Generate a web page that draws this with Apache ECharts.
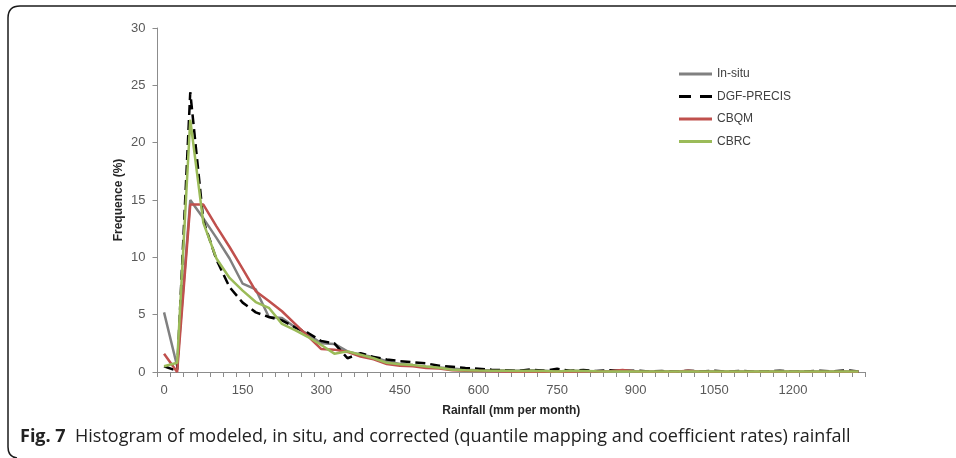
<!DOCTYPE html>
<html><head><meta charset="utf-8">
<script src="https://cdn.jsdelivr.net/npm/echarts@6/dist/echarts.min.js"></script>
<style>html,body{margin:0;padding:0;background:#fff}#c{width:956px;height:458px}</style>
</head><body><div id="c"></div>
<script>
var categories = [];
for (var i = 0; i < 54; i++) categories.push(String(i * 25));

var inSitu = [5.2,0.5,15.0,13.4,11.7,9.9,7.7,7.2,4.8,4.7,3.9,3.3,2.5,2.45,1.8,1.5,1.3,0.95,0.7,0.6,0.45,0.4,0.3,0.2,0.15,0.15,0.12,0.1,0.15,0.12,0.05,0.1,0.08,0.05,0.05,0.1,0.05,0.04,0.05,0.03,0.06,0.04,0.05,0.03,0.04,0.03,0.05,0.03,0.04,0.03,0.05,0.03,0.04,0.03];
var dgfPrecis = [0.5,0.1,24.4,13.2,9.8,7.4,6.05,5.2,4.8,4.5,3.9,3.4,2.7,2.5,1.2,1.65,1.3,1.1,0.95,0.85,0.75,0.55,0.45,0.35,0.28,0.2,0.15,0.1,0.22,0.1,0.28,0.1,0.17,0.08,0.15,0.1,0.12,0.05,0.08,0.05,0.1,0.05,0.1,0.03,0.1,0.03,0.05,0.1,0.03,0.05,0.1,0.05,0.15,0.05];
var cbqm = [1.6,0.0,14.6,14.6,12.7,10.9,9.0,7.05,6.2,5.3,4.2,3.1,2.0,1.95,1.75,1.35,1.1,0.7,0.55,0.5,0.35,0.3,0.15,0.1,0.08,0.06,0.05,0.03,0.04,0.03,0.05,0.03,0.04,0.05,0.06,0.17,0.05,0.03,0.03,0.03,0.1,0.03,0.03,0.03,0.03,0.03,0.03,0.03,0.03,0.03,0.03,0.03,0.03,0.03];
var cbrc = [0.5,0.8,22.0,13.0,9.9,8.2,7.1,6.1,5.6,4.2,3.65,3.05,2.35,1.6,1.8,1.5,1.2,0.8,0.68,0.6,0.47,0.38,0.2,0.15,0.12,0.1,0.1,0.08,0.1,0.08,0.05,0.1,0.08,0.06,0.05,0.05,0.05,0.05,0.05,0.05,0.05,0.05,0.05,0.05,0.05,0.05,0.05,0.05,0.05,0.05,0.05,0.05,0.05,0.05];
var seriesNames = ['In-situ','DGF-PRECIS','CBQM','CBRC'];
var yTicks = {min:0, max:30, interval:5};

var FONT = 'Liberation Sans';
var solidIcon = 'path://M0,0 L33,0 L33,3 L0,3 Z';
var dashIcon = 'path://M0,0 L12,0 L12,3 L0,3 Z M21,0 L33,0 L33,3 L21,3 Z';
var frameStyle = {stroke:'#1a1a1a', lineWidth:1.5, fill:null};
var chart = echarts.init(document.getElementById('c'));
chart.setOption({
  backgroundColor:'#fff',
  animation:false,
  textStyle:{fontFamily:FONT},
  grid:{left:157.5, right:91, top:28, bottom:86, containLabel:false},
  legend:{
    orient:'vertical', left:674, top:63, itemGap:10.5, itemWidth:33, itemHeight:14,
    textStyle:{fontSize:12, color:'#404040', fontFamily:FONT},
    data:[
      {name:seriesNames[0], icon:solidIcon},
      {name:seriesNames[1], icon:dashIcon},
      {name:seriesNames[2], icon:solidIcon},
      {name:seriesNames[3], icon:solidIcon}
    ]
  },
  xAxis:{
    type:'category', data:categories, boundaryGap:true,
    name:'Rainfall (mm per month)', nameLocation:'middle', nameGap:33,
    nameTextStyle:{fontSize:12, fontWeight:'bold', color:'#262626', fontFamily:FONT},
    axisLine:{lineStyle:{color:'#8c8c8c', width:1}},
    axisTick:{show:true, interval:0, alignWithLabel:false, length:5, lineStyle:{color:'#8c8c8c'}},
    axisLabel:{interval:5, fontSize:13, color:'#595959', margin:12, fontFamily:FONT},
    splitLine:{show:false}
  },
  yAxis:{
    type:'value', min:yTicks.min, max:yTicks.max, interval:yTicks.interval,
    name:'Frequence (%)', nameLocation:'middle', nameGap:33, nameRotate:90, nameMoveOverlap:false,
    nameTextStyle:{fontSize:12, fontWeight:'bold', color:'#262626', fontFamily:FONT},
    axisLine:{show:true, lineStyle:{color:'#8c8c8c', width:1}},
    axisTick:{show:true, length:5, lineStyle:{color:'#8c8c8c'}},
    axisLabel:{fontSize:13, color:'#595959', margin:12, fontFamily:FONT},
    splitLine:{show:false}
  },
  series:[
    {name:seriesNames[0], type:'line', data:inSitu, showSymbol:false, symbol:'none',
     lineStyle:{color:'#808080', width:2.5}, itemStyle:{color:'#808080'}},
    {name:seriesNames[1], type:'line', data:dgfPrecis, showSymbol:false, symbol:'none',
     lineStyle:{color:'#000000', width:2.5, type:'dashed'}, itemStyle:{color:'#000000'}},
    {name:seriesNames[2], type:'line', data:cbqm, showSymbol:false, symbol:'none',
     lineStyle:{color:'#C0504D', width:2.5}, itemStyle:{color:'#C0504D'}},
    {name:seriesNames[3], type:'line', data:cbrc, showSymbol:false, symbol:'none',
     lineStyle:{color:'#9BBB59', width:2.5}, itemStyle:{color:'#9BBB59'}}
  ],
  graphic:[
    {type:'polyline', shape:{points:[[956,6],[20,6]]}, style:frameStyle},
    {type:'bezierCurve', shape:{x1:20,y1:6,x2:8,y2:18,cpx1:8,cpy1:6}, style:frameStyle},
    {type:'polyline', shape:{points:[[8,18],[8,447]]}, style:frameStyle},
    {type:'bezierCurve', shape:{x1:8,y1:447,x2:17,y2:458,cpx1:8,cpy1:457}, style:frameStyle},
    {type:'text', left:20, top:428,
     style:{text:'{b|Fig. 7}  Histogram of modeled, in situ, and corrected (quantile mapping and coefficient rates) rainfall',
       font:'18px "Open Sans"', fill:'#222',
       rich:{b:{fontWeight:'bold', fontSize:18, fontFamily:'Open Sans', fill:'#222'}}}}
  ]
});
</script></body></html>
